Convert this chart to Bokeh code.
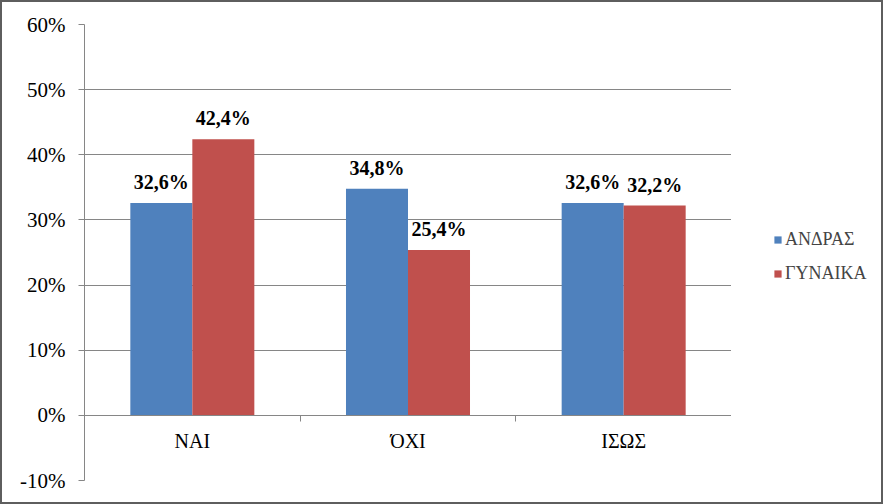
from bokeh.plotting import figure
from bokeh.layouts import row
from bokeh.models import (ColumnDataSource, FixedTicker, NumeralTickFormatter, Legend,
                          LegendItem, LinearAxis, Range1d)
from bokeh.transform import dodge
from bokeh.core.properties import value
from bokeh.embed import file_html
from bokeh.resources import INLINE

categories = ["ΝΑΙ", "ΌΧΙ", "ΙΣΩΣ"]
series_names = ["ΑΝΔΡΑΣ", "ΓΥΝΑΙΚΑ"]
andras = [0.326, 0.348, 0.326]
gynaika = [0.424, 0.254, 0.322]
y_ticks = [-0.1, 0.0, 0.1, 0.2, 0.3, 0.4, 0.5, 0.6]

BLUE = "#4F81BD"
RED = "#C0504D"
GRID = "#868686"
FONT = "Liberation Serif"

def fmt(v):
    return f"{v * 100:.1f}%".replace(".", ",")

x_centers = [i + 0.5 for i in range(len(categories))]
src = ColumnDataSource(dict(
    x=x_centers, cat=categories, andras=andras, gynaika=gynaika,
    andras_lbl=[fmt(v) for v in andras], gynaika_lbl=[fmt(v) for v in gynaika],
    zero=[0.0] * len(categories),
))

p = figure(width=729, height=500, output_backend="svg", toolbar_location=None,
           x_range=Range1d(0, len(categories)), y_range=Range1d(-0.1, 0.6),
           x_axis_location=None, min_border_left=82, min_border_right=0,
           min_border_top=22, min_border_bottom=22)
p.outline_line_color = None
p.background_fill_color = "white"
p.border_fill_color = "white"

bw = 0.2875
off = bw / 2
r1 = p.vbar(x=dodge("x", -off, range=p.x_range), top="andras", width=bw, source=src,
            fill_color=BLUE, line_color=None)
r2 = p.vbar(x=dodge("x", off, range=p.x_range), top="gynaika", width=bw, source=src,
            fill_color=RED, line_color=None)

for col, o in (("andras", -off), ("gynaika", off)):
    p.text(x=dodge("x", o, range=p.x_range), y=col, text=col + "_lbl", source=src,
           text_font=value(FONT), text_font_style="bold", text_font_size="20px",
           text_align="center", text_baseline="alphabetic", y_offset=-21,
           text_color="black")

p.text(x="x", y="zero", text="cat", source=src, text_font=value(FONT),
       text_font_size="20px", text_align="center", text_baseline="middle",
       y_offset=26, text_color="black")

# y axis
yax = p.yaxis[0]
yax.ticker = FixedTicker(ticks=y_ticks)
yax.formatter = NumeralTickFormatter(format="0%")
yax.major_label_text_font = FONT
yax.major_label_text_font_size = "21px"
yax.major_label_text_color = "black"
yax.axis_line_color = GRID
yax.major_tick_line_color = GRID
yax.major_tick_out = 6
yax.major_tick_in = 0
yax.minor_tick_line_color = None
yax.major_label_standoff = 13

p.ygrid.ticker = FixedTicker(ticks=y_ticks)
p.ygrid.grid_line_color = GRID
p.xgrid.grid_line_color = None

# category axis on the zero line with ticks at category boundaries
bounds = list(range(len(categories) + 1))
xax = LinearAxis(fixed_location=0, ticker=FixedTicker(ticks=bounds))
xax.major_label_overrides = {b: "" for b in bounds}
xax.axis_line_color = GRID
xax.major_tick_line_color = GRID
xax.major_tick_out = 6
xax.major_tick_in = 0
xax.minor_tick_line_color = None
xax.major_label_standoff = 0
p.add_layout(xax, "below")

# legend panel (separate figure so the legend is not clipped by the plot frame)
lg = figure(width=150, height=500, output_backend="svg", toolbar_location=None,
            x_range=Range1d(0, 1), y_range=Range1d(0, 1), x_axis_location=None,
            y_axis_location=None, min_border=0)
lg.outline_line_color = None
lg.xgrid.visible = False
lg.ygrid.visible = False
e1 = lg.vbar(x=[0], top=[0], bottom=[0], width=0, fill_color=BLUE, line_color=None)
e2 = lg.vbar(x=[0], top=[0], bottom=[0], width=0, fill_color=RED, line_color=None)
legend = Legend(items=[LegendItem(label=series_names[0], renderers=[e1]),
                       LegendItem(label=series_names[1], renderers=[e2])],
                location=(42, 196), padding=0, margin=0, spacing=13,
                glyph_width=9, glyph_height=9, label_height=20, label_standoff=3,
                label_text_font=FONT, label_text_font_size="18px",
                border_line_color=None, background_fill_alpha=0)
lg.add_layout(legend, "center")

layout = row(p, lg, spacing=0)
layout.styles = {"border": "2px solid #5e5e5e"}

open("out.html", "w").write(file_html(layout, INLINE))
